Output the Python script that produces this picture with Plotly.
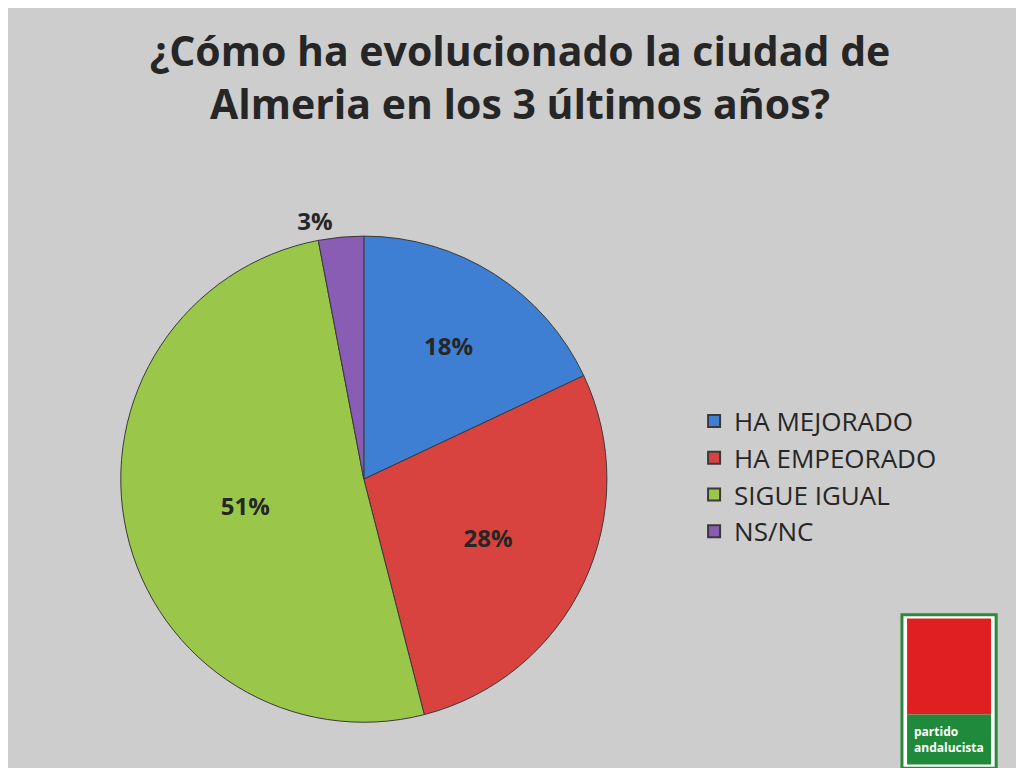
import plotly.graph_objects as go

labels = ["HA MEJORADO", "HA EMPEORADO", "SIGUE IGUAL", "NS/NC"]
values = [18, 28, 51, 3]
colors = ["#3f7fd3", "#d8433f", "#9ac64a", "#8a5db5"]

fig = go.Figure()
fig.add_trace(
    go.Pie(
        labels=labels,
        values=values,
        sort=False,
        direction="clockwise",
        marker=dict(colors=colors, line=dict(color="#3a3a3a", width=1)),
        texttemplate="<b>%{percent:.0%}</b>",
        textposition=["inside", "inside", "inside", "outside"],
        insidetextorientation="horizontal",
        textfont=dict(family="Open Sans", size=24, color="#262626"),
        domain=dict(x=[0.11, 0.585], y=[0.07, 0.703]),
    )
)
fig.update_layout(
    width=1024,
    height=768,
    paper_bgcolor="#cdcdcd",
    margin=dict(l=0, r=0, t=0, b=0),
    title=dict(
        text="<b>¿Cómo ha evolucionado la ciudad de<br>Almeria en los 3 últimos años?</b>",
        x=0.5,
        y=0.925,
        xanchor="center",
        yanchor="top",
        font=dict(family="Open Sans", size=41, color="#262626"),
    ),
    legend=dict(
        x=0.67,
        y=0.39,
        yanchor="middle",
        font=dict(family="Open Sans", size=26, color="#262626"),
        itemsizing="constant",
        bgcolor="rgba(0,0,0,0)",
    ),
    shapes=[
        dict(type="rect", xref="paper", yref="paper", x0=0.873, x1=0.965, y0=0.01, y1=0.21,
             fillcolor="white", line=dict(color="#2a8a3a", width=3)),
        dict(type="rect", xref="paper", yref="paper", x0=0.878, x1=0.960, y0=0.08, y1=0.205,
             fillcolor="#e02020", line=dict(width=0)),
        dict(type="rect", xref="paper", yref="paper", x0=0.878, x1=0.960, y0=0.015, y1=0.08,
             fillcolor="#1f8a3a", line=dict(width=0)),
    ],
    annotations=[
        dict(text="<b>partido<br>andalucista</b>", xref="paper", yref="paper", x=0.919, y=0.047,
             xanchor="center", yanchor="middle", align="left",
             showarrow=False, font=dict(family="Open Sans", size=12, color="white")),
    ],
)
fig.write_html("out.html")
